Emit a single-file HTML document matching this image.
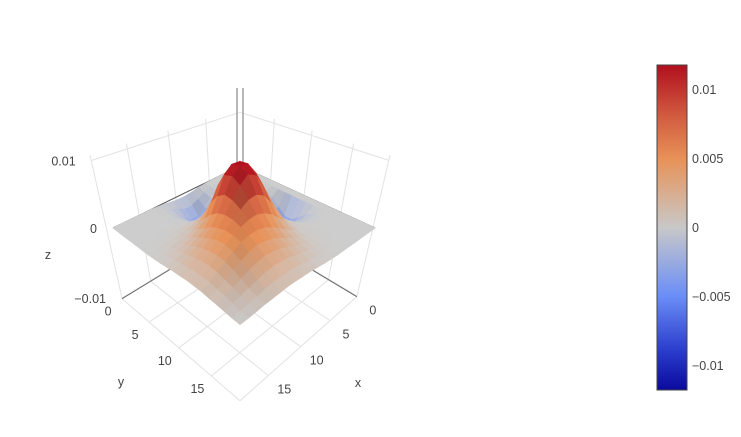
<!DOCTYPE html>
<html><head><meta charset="utf-8"><style>
html,body{margin:0;padding:0;background:#fff;}
svg{display:block;font-family:"Liberation Sans",sans-serif;}
</style></head><body>
<svg id="chart" width="741" height="437" viewBox="0 0 741 437">
<defs>
<linearGradient id="cbgrad" x1="0" y1="1" x2="0" y2="0">
<stop offset="0" stop-color="#0a0a9c"/><stop offset="0.12" stop-color="#2a3ccc"/>
<stop offset="0.29" stop-color="#6b8ef7"/><stop offset="0.5" stop-color="#c8c8c8"/>
<stop offset="0.71" stop-color="#e89258"/><stop offset="0.85" stop-color="#d0583e"/>
<stop offset="1" stop-color="#b10f1e"/>
</linearGradient>
</defs>
<g id="grid"></g>
<g id="surf"></g>
<g id="labels" font-size="12.5" fill="#444"></g>
<g>
<rect x="657" y="65" width="30" height="325" fill="url(#cbgrad)" stroke="#444" stroke-width="1"/>
<g font-size="12.5" fill="#444">
<text x="692" y="94">0.01</text>
<text x="692" y="163">0.005</text>
<text x="692" y="232">0</text>
<text x="692" y="301">−0.005</text>
<text x="692" y="370">−0.01</text>
</g></g>
</svg>
<script>
const xVals=[0,1,2,3,4,5,6,7,8,9,10,11,12,13,14,15,16,17,18,19];
const yVals=[0,1,2,3,4,5,6,7,8,9,10,11,12,13,14,15,16,17,18,19];
// z values in units of 1e-4, rows indexed by x, columns by y
const zRows=[
[0,0,0,0,0,0,0,0,0,0,0,0,0,0,0,0,0,0,0,0],
[0,0,0,0,0,0,0,0,0,0,0,0,0,0,0,0,0,0,0,0],
[0,0,0,0,0,0,-2,-7,-17,-26,-26,-17,-7,-2,0,0,0,0,0,0],
[0,0,0,0,0,-1,-3,-10,-22,-33,-33,-22,-10,-3,-1,0,0,0,0,0],
[0,0,0,0,0,1,-2,-7,-16,-24,-24,-16,-7,-2,1,1,0,0,0,0],
[0,0,0,-1,0,1,0,0,-3,-5,-5,-2,1,2,2,1,1,1,0,0],
[-1,-1,-2,-2,-1,0,5,10,16,20,20,17,12,8,4,3,2,2,1,0],
[-2,-5,-8,-8,-7,0,10,24,42,54,56,47,33,21,13,8,6,5,2,1],
[-4,-10,-17,-19,-16,-3,16,42,69,91,95,78,55,35,22,15,11,8,4,2],
[-5,-15,-26,-30,-25,-6,21,54,91,115,118,104,75,49,32,22,16,12,7,4],
[-5,-15,-26,-30,-25,-6,21,56,93,117,120,113,84,59,42,31,23,16,9,6],
[-4,-10,-17,-19,-16,-2,19,46,78,104,110,101,83,65,50,38,29,21,13,7],
[-2,-5,-8,-8,-7,1,14,32,55,74,84,82,74,64,54,43,33,23,15,8],
[-1,-1,-2,-2,0,3,9,20,34,48,59,64,64,60,54,46,35,25,15,9],
[0,0,0,0,0,2,6,12,22,31,42,49,54,54,51,42,33,23,15,8],
[0,0,0,0,0,2,5,8,15,23,31,38,45,46,43,36,29,20,13,7],
[0,0,0,0,0,1,3,6,10,16,23,29,33,36,34,29,22,15,9,6],
[0,0,0,0,0,1,3,5,8,12,17,21,24,25,24,20,16,11,7,4],
[0,0,0,0,0,0,1,2,4,7,11,13,15,16,15,13,11,7,4,2],
[0,0,0,0,0,0,0,1,2,4,6,7,9,9,9,7,6,4,2,1]
];
const zTicks=[-0.01,0,0.01];
const zTickLabels=["−0.01","0","0.01"];
const xTicks=[0,5,10,15];
const yTicks=[0,5,10,15];

const NS="http://www.w3.org/2000/svg";
const XMAX=19,YMAX=19,ZB=-0.0101,ZT=0.0108,CMIN=-0.0118,CMAX=0.0118,K=1.2;
const C0={B:[240,166],L:[113,228],R:[375,228],F:[240,325]};
const SP={B:4500,L:6760,R:6760,F:4300}, SN={B:6000,L:7000,R:6800,F:7500};
const DP={B:0,L:-2130,R:1390,F:0}, DN={B:0,L:-900,R:1800,F:0};
function warp(t){return t/(t+K*(1-t));}
function bl(o,a,b){return o.B*(1-a)*(1-b)+o.L*a*(1-b)+o.R*(1-a)*b+o.F*a*b;}
function P(x,y,z){
  const a=warp(x/XMAX), b=warp(y/YMAX);
  const bx=bl({B:C0.B[0],L:C0.L[0],R:C0.R[0],F:C0.F[0]},a,b);
  const by=bl({B:C0.B[1],L:C0.L[1],R:C0.R[1],F:C0.F[1]},a,b);
  const s=bl(z>=0?SP:SN,a,b), d=bl(z>=0?DP:DN,a,b);
  return [bx+d*z, by-s*z];
}
function WP(x,y,z){
  const a=warp(x/XMAX), b=warp(y/YMAX);
  const bx=bl({B:C0.B[0],L:C0.L[0],R:C0.R[0],F:C0.F[0]},a,b);
  const by=bl({B:C0.B[1],L:C0.L[1],R:C0.R[1],F:C0.F[1]},a,b);
  const s=bl(z>=0?{B:5370,L:6760,R:6760,F:5500}:SN,a,b), d=bl(z>=0?DP:DN,a,b);
  return [bx+d*z, by-s*z];
}
function line(g,p,q,col,w,name){
  const l=document.createElementNS(NS,'line');
  l.setAttribute('x1',p[0].toFixed(1));l.setAttribute('y1',p[1].toFixed(1));
  l.setAttribute('x2',q[0].toFixed(1));l.setAttribute('y2',q[1].toFixed(1));
  l.setAttribute('stroke',col);l.setAttribute('stroke-width',w);
  
  
  g.appendChild(l);
}
const grid=document.getElementById('grid');
const GC="#e2e2e2";
xTicks.concat([XMAX]).forEach(x=>{ if(x>0) line(grid,WP(x,0,ZB),WP(x,0,ZT),GC,1,'left-wall-gridline'); });
yTicks.concat([YMAX]).forEach(y=>{ if(y>0) line(grid,WP(0,y,ZB),WP(0,y,ZT),GC,1,'right-wall-gridline'); });
zTicks.forEach(z=>{
  const c=z===0?"#555":GC;
  line(grid,WP(XMAX,0,z),WP(0,0,z),c,1,'left-wall-z-gridline');
  line(grid,WP(0,YMAX,z),WP(0,0,z),c,1,'right-wall-z-gridline');
});
xTicks.concat([XMAX]).forEach(x=>{ if(x>0) line(grid,WP(x,0,ZB),WP(x,YMAX,ZB),GC,1,'floor-x-gridline'); });
yTicks.concat([YMAX]).forEach(y=>{ if(y>0) line(grid,WP(0,y,ZB),WP(XMAX,y,ZB),GC,1,'floor-y-gridline'); });
line(grid,WP(XMAX,0,ZB),WP(0,0,ZB),"#666",1,'floor-x-axis-line');
line(grid,WP(0,YMAX,ZB),WP(0,0,ZB),"#666",1,'floor-y-axis-line');
line(grid,[237,88],[237,185],"#888",1.2,'back-edge-line');
line(grid,[243,88],[243,185],"#888",1.2,'back-edge-line');

const stops=[[0,[10,10,156]],[0.12,[42,60,204]],[0.29,[107,142,247]],[0.5,[205,205,205]],[0.71,[232,146,88]],[0.85,[208,88,62]],[1,[177,15,30]]];
function cscale(z){
  let t=(z-CMIN)/(CMAX-CMIN); t=Math.max(0,Math.min(1,t));
  for(let k=1;k<stops.length;k++){ if(t<=stops[k][0]){const a=stops[k-1],b=stops[k],f=(t-a[0])/(b[0]-a[0]);return a[1].map((v,i)=>v+(b[1][i]-v)*f);} }
  return stops[stops.length-1][1];
}
const surf=document.getElementById('surf');
const quads=[];
for(let i=0;i<xVals.length-1;i++)for(let j=0;j<yVals.length-1;j++)quads.push([i,j]);
quads.sort((a,b)=>(a[0]+a[1])-(b[0]+b[1]));
quads.forEach(([i,j])=>{
  const z00=zRows[i][j],z10=zRows[i+1][j],z11=zRows[i+1][j+1],z01=zRows[i][j+1];
  const zm=(z00+z10+z11+z01)/4*1e-4;
  const dzi=(z10+z11-z00-z01)/2, dzj=(z01+z11-z00-z10)/2;
  let f=1-0.013*Math.max(0,Math.min(-dzi,-dzj)); f=Math.max(0.6,f);
  const c=cscale(zm).map(v=>Math.round(Math.min(255,v*f)));
  const col=`rgb(${c[0]},${c[1]},${c[2]})`;
  const pts=[[i,j,z00],[i+1,j,z10],[i+1,j+1,z11],[i,j+1,z01]].map(p=>P(xVals[p[0]],yVals[p[1]],p[2]*1e-4).map(v=>v.toFixed(1)).join(',')).join(' ');
  const pg=document.createElementNS(NS,'polygon');
  pg.setAttribute('points',pts);pg.setAttribute('fill',col);pg.setAttribute('stroke',col);pg.setAttribute('stroke-width','0.8');
  
  
  surf.appendChild(pg);
});
const labels=document.getElementById('labels');
function text(x,y,s,name,anchor){
  const t=document.createElementNS(NS,'text');
  t.setAttribute('x',x.toFixed(1));t.setAttribute('y',y.toFixed(1));
  if(anchor)t.setAttribute('text-anchor',anchor);
  t.textContent=s;
  
  
  labels.appendChild(t);
}
zTicks.forEach((z,k)=>{const p=WP(XMAX,0,z);text(p[0]-16,p[1]+5,zTickLabels[k],'z-tick-label','end');});
text(48,259,"z",'z-axis-title','middle');
yTicks.forEach(y=>{const p=WP(XMAX,y,ZB);text(p[0]-14,p[1]+17,String(y),'y-tick-label','middle');});
text(121,386,"y",'y-axis-title','middle');
xTicks.forEach(x=>{const p=WP(x,YMAX,ZB);text(p[0]+16,p[1]+18,String(x),'x-tick-label','middle');});
text(358,387,"x",'x-axis-title','middle');
</script>
</body></html>
